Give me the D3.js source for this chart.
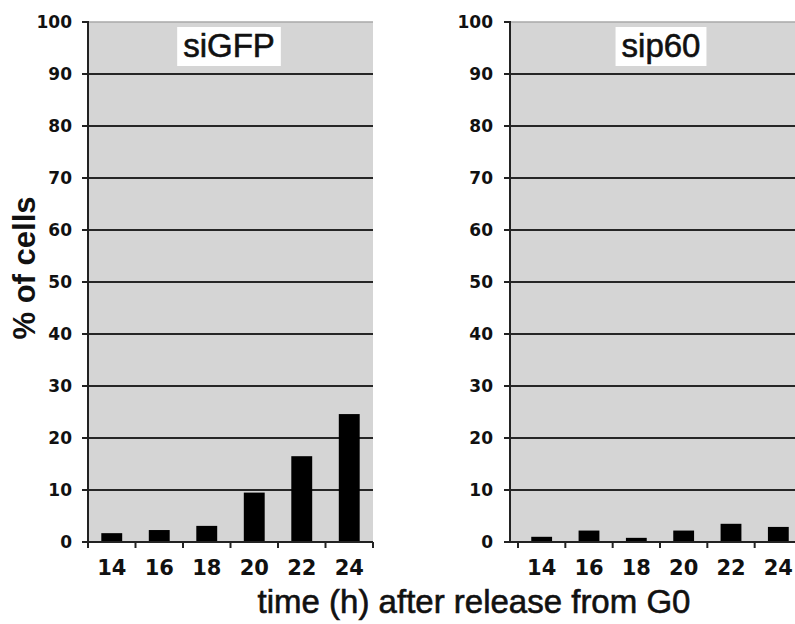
<!DOCTYPE html>
<html>
<head>
<meta charset="utf-8">
<script src="https://cdn.jsdelivr.net/npm/d3@7"></script>
<style>
  body { margin: 0; background: #fff; }
  svg { display: block; }
</style>
</head>
<body>
<svg id="chart" width="795" height="624"></svg>
<script>
// data
const times = ["14", "16", "18", "20", "22", "24"];
const siGFP = [1.7, 2.3, 3.1, 9.5, 16.5, 24.6];
const sip60 = [1.0, 2.2, 0.8, 2.2, 3.5, 2.9];
const yTicks = [0, 10, 20, 30, 40, 50, 60, 70, 80, 90, 100];

const svg = d3.select("#chart");

const y = d3.scaleLinear().domain([0, 100]).range([542, 22]);

function drawPanel(name, values, axisX, bandX0, bandX1, labelX, boxX) {
    const g = svg.append("g");
    const x = d3.scaleBand().domain(times).range([bandX0, bandX1]).paddingInner(0.56).paddingOuter(0.28);

    // plot background
    g.append("rect")
        .attr("x", axisX)
        .attr("y", y(100))
        .attr("width", bandX1 - axisX)
        .attr("height", y(0) - y(100))
        .attr("fill", "#d5d5d5");

    // top border
    g.append("line")
        .attr("x1", axisX).attr("x2", bandX1)
        .attr("y1", y(100)).attr("y2", y(100))
        .attr("stroke", "#a8a8a8").attr("stroke-width", 1.5);

    // gridlines
    g.selectAll("line.grid")
        .data(yTicks.filter(t => t > 0 && t < 100))
        .join("line")
        .attr("class", "grid")
        .attr("x1", axisX).attr("x2", bandX1)
        .attr("y1", d => y(d)).attr("y2", d => y(d))
        .attr("stroke", "#262626").attr("stroke-width", 2);

    // bars
    g.selectAll("rect.bar")
        .data(values)
        .join("rect")
        .attr("class", "bar")
        .attr("x", (d, i) => x(times[i]))
        .attr("width", x.bandwidth())
        .attr("y", d => y(d))
        .attr("height", d => y(0) - y(d))
        .attr("fill", "#000");

    // y axis line + ticks
    g.append("line")
        .attr("x1", axisX).attr("x2", axisX)
        .attr("y1", y(100) - 1).attr("y2", y(0) + 1)
        .attr("stroke", "#222").attr("stroke-width", 2);
    g.selectAll("line.ytick")
        .data(yTicks)
        .join("line")
        .attr("class", "ytick")
        .attr("x1", axisX - 6).attr("x2", axisX)
        .attr("y1", d => y(d)).attr("y2", d => y(d))
        .attr("stroke", "#222").attr("stroke-width", 2);
    g.selectAll("text.ylab")
        .data(yTicks)
        .join("text")
        .attr("class", "ylab")
        .attr("x", labelX)
        .attr("y", d => y(d))
        .attr("dy", "0.36em")
        .attr("text-anchor", "end")
        .style("font-family", "DejaVu Sans")
        .style("font-weight", "bold")
        .style("font-size", "17px")
        .attr("fill", "#111")
        .text(d => d);

    // x axis line + ticks at band edges
    g.append("line")
        .attr("x1", axisX - 6).attr("x2", bandX1)
        .attr("y1", y(0)).attr("y2", y(0))
        .attr("stroke", "#222").attr("stroke-width", 2);
    const edges = d3.range(times.length + 1).map(i => bandX0 + i * (bandX1 - bandX0) / times.length);
    g.selectAll("line.xtick")
        .data(edges)
        .join("line")
        .attr("class", "xtick")
        .attr("x1", d => d).attr("x2", d => d)
        .attr("y1", y(0)).attr("y2", y(0) + 6)
        .attr("stroke", "#222").attr("stroke-width", 2);
    g.selectAll("text.xlab")
        .data(times)
        .join("text")
        .attr("class", "xlab")
        .attr("x", d => x(d) + x.bandwidth() / 2)
        .attr("y", 575)
        .attr("text-anchor", "middle")
        .style("font-family", "DejaVu Sans")
        .style("font-weight", "bold")
        .style("font-size", "21px")
        .attr("fill", "#111")
        .text(d => d);

    // panel title in white box
    const tg = g.append("g");
    const t = tg.append("text")
        .attr("x", boxX)
        .attr("y", 57)
        .attr("text-anchor", "middle")
        .style("font-family", "Liberation Sans")
        .style("font-size", "33px")
        .attr("fill", "#111")
        .attr("stroke", "#111")
        .attr("stroke-width", 0.6)
        .text(name);
    const bb = t.node().getBBox();
    tg.insert("rect", "text")
        .attr("x", bb.x - 6)
        .attr("y", 27)
        .attr("width", bb.width + 12)
        .attr("height", 39)
        .attr("fill", "#fff");
}

drawPanel("siGFP", siGFP, 88, 88, 373, 72, 229);
drawPanel("sip60", sip60, 510, 518, 802, 493, 661);

// y axis title
svg.append("text")
    .attr("transform", "translate(35,268) rotate(-90)")
    .attr("text-anchor", "middle")
    .style("font-family", "Liberation Sans")
    .style("font-weight", "bold")
    .style("font-size", "31px")
    .attr("fill", "#111")
    .text("% of cells");

// x axis title
svg.append("text")
    .attr("x", 474)
    .attr("y", 613)
    .attr("text-anchor", "middle")
    .style("font-family", "Liberation Sans")
    .style("font-size", "33px")
    .attr("fill", "#111")
    .attr("stroke", "#111")
    .attr("stroke-width", 0.6)
    .text("time (h) after release from G0");
</script>
</body>
</html>
